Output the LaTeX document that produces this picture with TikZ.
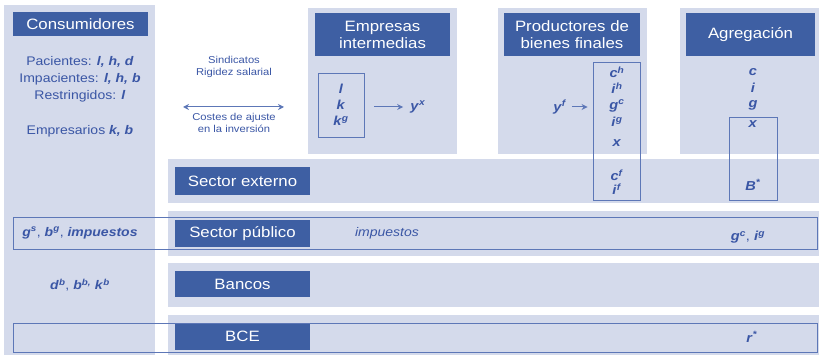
\documentclass[tikz,border=0pt]{standalone}
\usepackage{fontspec}
\setmainfont{Liberation Sans}[FakeStretch=1.12]
\usetikzlibrary{arrows.meta, positioning}
\definecolor{hdblue}{HTML}{3E5FA3}
\definecolor{panelblue}{HTML}{D4DAEB}
\definecolor{txtblue}{HTML}{3A56A5}
\definecolor{lineblue}{HTML}{5D77B7}
\newcommand{\vv}[1]{\textbf{\textit{#1}}}
\newcommand{\vs}[2]{\vv{#1}\textsuperscript{\vv{#2}}}
\tikzstyle{header}=[fill=hdblue, text=white, font=\fontsize{15}{17}\selectfont, align=center, inner sep=0pt]
\tikzstyle{panel}=[fill=panelblue, draw=none]
\tikzstyle{outline}=[draw=lineblue, line width=0.9pt]
\tikzstyle{txt}=[text=txtblue, font=\fontsize{12.5}{17}\selectfont, align=center, inner sep=1pt]
\tikzstyle{vartxt}=[text=txtblue, font=\fontsize{13}{16}\selectfont, align=center, inner sep=1pt]
\tikzstyle{note}=[text=txtblue, font=\fontsize{10}{12}\selectfont, align=center, inner sep=1pt]
\tikzstyle{flow}=[>={Stealth[length=6pt,width=6pt]}, lineblue, line width=1pt]

\begin{document}
\begin{tikzpicture}[x=1pt, y=-1pt]
  \useasboundingbox (0,0) rectangle (819,355);
  % panels
  \fill[panel] (4,5) rectangle (155,355);
  \fill[panel] (308,8) rectangle (457,154);
  \fill[panel] (498,8) rectangle (647,154);
  \fill[panel] (680,8) rectangle (819,154);
  \foreach \top/\bot in {159/203, 211/256, 263/307, 315/355}
    \fill[panel] (168,\top) rectangle (819,\bot);
  % row frames
  \draw[outline] (13,217) rectangle (817,249);
  \draw[outline] (13,323) rectangle (817,352);

  % headers
  \node[header, minimum width=135pt, minimum height=24pt] (cons) at (80.5,24) {Consumidores};
  \node[header, minimum width=135pt, minimum height=43pt] (inter) at (382.5,34.5) {Empresas\\intermedias};
  \node[header, minimum width=136pt, minimum height=43pt] (final) at (572,34.5) {Productores de\\bienes finales};
  \node[header, minimum width=129pt, minimum height=43pt] (agreg) at (750.5,34.5) {Agregación};
  \node[header, minimum width=135pt, minimum height=28pt] (ext) at (242.5,181) {Sector externo};
  \node[header, minimum width=135pt, minimum height=27pt] (pub) at (242.5,233.5) {Sector público};
  \node[header, minimum width=135pt, minimum height=26pt] (banc) at (242.5,284.5) {Bancos};
  \node[header, minimum width=135pt, minimum height=26pt] (bce) at (242.5,336.5) {BCE};

  % consumidores
  \node[txt] (pac) at (80,62) {Pacientes: \vv{l, h, d}};
  \node[txt] (imp) at (80,79) {Impacientes: \vv{l, h, b}};
  \node[txt] (res) at (80,96) {Restringidos: \vv{l}};
  \node[txt] (emp) at (80,131) {Empresarios \vv{k, b}};
  \node[txt] (gov) at (80,233) {\vs{g}{s}, \vs{b}{g}, \vv{impuestos}};
  \node[txt] (bank) at (80,285) {\vs{d}{b}, \vs{b}{b,} \vs{k}{b}};

  % rigideces
  \node[note] (sind) at (234,67) {Sindicatos\\Rigidez salarial};
  \node[note] (cost) at (234,123) {Costes de ajuste\\en la inversión};
  \coordinate (rl) at (183,107);
  \coordinate (rr) at (284,107);
  \draw[flow, <->] (rl) -- (rr);

  % empresas intermedias
  \node[outline, vartxt, minimum width=46pt, minimum height=64pt] (lkg) at (341,105) {\vv{l}\\\vv{k}\\\vs{k}{g}};
  \node[vartxt] (yx) at (418,107) {\vs{y}{x}};
  \draw[flow, ->, shorten <=10pt, shorten >=6pt] (lkg.east |- yx) -- (yx);

  % productores de bienes finales
  \node[outline, minimum width=47pt, minimum height=138pt, inner sep=0pt] (fbox) at (616.5,131) {};
  \node[vartxt] (yf) at (560,107) {\vs{y}{f}};
  \draw[flow, ->, shorten <=4pt, shorten >=5pt] (yf) -- (yf -| fbox.west);
  \node[vartxt] (ch) at (617,72) {\vs{c}{h}};
  \node[vartxt] (ih) at (617,88) {\vs{i}{h}};
  \node[vartxt] (gc) at (617,106) {\vs{g}{c}};
  \node[vartxt] (ig) at (617,122) {\vs{i}{g}};
  \node[vartxt] (xf) at (617,143) {\vv{x}};
  \node[vartxt] (cf) at (617,175) {\vs{c}{f}};
  \node[vartxt] (if) at (617,189) {\vs{i}{f}};

  % agregacion
  \node[outline, minimum width=48pt, minimum height=83pt, inner sep=0pt] (abox) at (753,158.5) {};
  \node[vartxt] (ca) at (753,72) {\vv{c}};
  \node[vartxt] (ia) at (753,88) {\vv{i}};
  \node[vartxt] (ga) at (753,105) {\vv{g}};
  \node[vartxt] (xa) at (753,124) {\vv{x}};
  \node[vartxt] (bst) at (753,185) {\vs{B}{*}};

  % filas inferiores
  \node[txt] (tax) at (387,233) {\textit{impuestos}};
  \node[vartxt] (gcig) at (748,237) {\vs{g}{c}, \vs{i}{g}};
  \node[vartxt] (rst) at (752,337) {\vs{r}{*}};
\end{tikzpicture}
\end{document}
